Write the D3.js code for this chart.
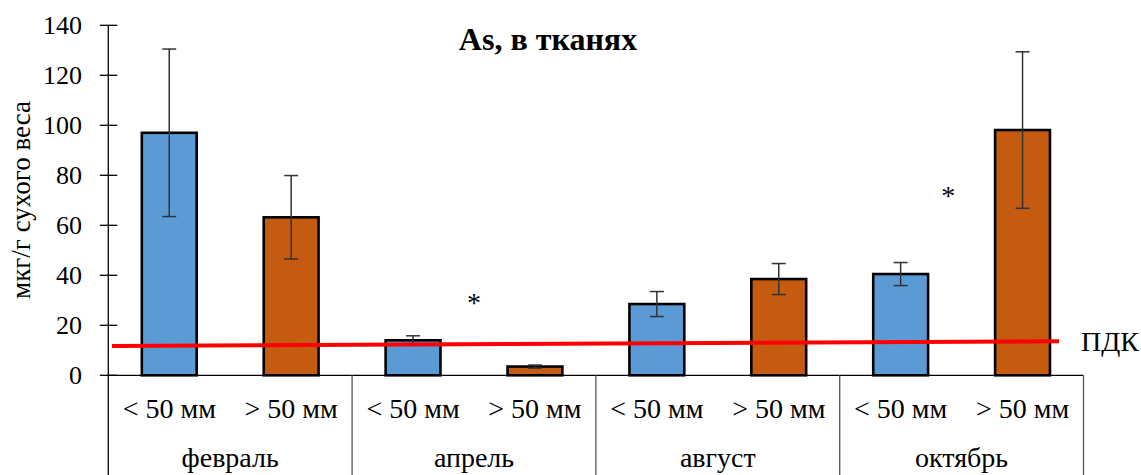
<!DOCTYPE html>
<html>
<head>
<meta charset="utf-8">
<script src="https://cdn.jsdelivr.net/npm/d3@7"></script>
<style>
  html, body { margin: 0; padding: 0; background: #fff; }
</style>
</head>
<body>
<svg id="chart" width="1141" height="475"></svg>
<script>
// Arsenic in tissues, by month and size class
const months = ["февраль", "апрель", "август", "октябрь"];
const sizes = ["< 50 мм", "> 50 мм"];
const smallValues = [97.0, 14.0, 28.5, 40.5];
const smallErrors = [33.5, 1.8, 5.0, 4.6];
const largeValues = [63.2, 3.5, 38.5, 98.1];
const largeErrors = [16.7, 0.6, 6.2, 31.3];
const yTicks = [0, 20, 40, 60, 80, 100, 120, 140];
const pdkValues = [11.7, 13.6];           // limit line, start and end
const starredMonths = ["апрель", "октябрь"];
const starHeights = [30, 73];              // height of the significance mark
const starOffsets = [0.5, 0.445];          // position inside the month group

const colors = { "< 50 мм": "#5B9BD5", "> 50 мм": "#C55A11" };
const FONT = '"Liberation Serif"';

// rows for the bars
const rows = [];
months.forEach((m, i) => {
  rows.push({ month: m, size: sizes[0], value: smallValues[i], err: smallErrors[i] });
  rows.push({ month: m, size: sizes[1], value: largeValues[i], err: largeErrors[i] });
});

const svg = d3.select("#chart");
const plotLeft = 108.3, plotRight = 1083.5, plotTop = 25.3, plotBase = 375.3, plotBottom = 475;

const x = d3.scaleBand()
  .domain(rows.map(d => d.month + "|" + d.size))
  .range([plotLeft, plotRight])
  .paddingInner(0.55)
  .paddingOuter(0.275);
const xMonth = d3.scaleBand().domain(months).range([plotLeft, plotRight]);
const y = d3.scaleLinear().domain([0, 140]).range([plotBase, plotTop]);
const cx = d => x(d.month + "|" + d.size) + x.bandwidth() / 2;

// y axis with crossing ticks
const yAxis = svg.append("g");
yAxis.append("line")
  .attr("x1", plotLeft).attr("x2", plotLeft)
  .attr("y1", y(140)).attr("y2", plotBottom)
  .attr("stroke", "#000").attr("stroke-width", 1.3);
yAxis.selectAll("line.tick").data(yTicks).join("line")
  .attr("class", "tick")
  .attr("x1", plotLeft - 8.5).attr("x2", plotLeft + 9)
  .attr("y1", d => y(d)).attr("y2", d => y(d))
  .attr("stroke", "#000").attr("stroke-width", 1.3);
yAxis.selectAll("text").data(yTicks).join("text")
  .attr("x", 82).attr("y", d => y(d)).attr("dy", "0.34em")
  .attr("text-anchor", "end").attr("font-size", 26)
  .text(d => d);

svg.append("text")
  .attr("transform", `translate(30,${200}) rotate(-90)`)
  .attr("text-anchor", "middle").attr("font-size", 27)
  .text("мкг/г сухого веса");

// category axis: baseline and group dividers
svg.append("line")
  .attr("x1", plotLeft).attr("x2", plotRight).attr("y1", plotBase).attr("y2", plotBase)
  .attr("stroke", "#000").attr("stroke-width", 1.3);
svg.selectAll("line.div").data(months.slice(1).concat(["end"])).join("line")
  .attr("class", "div")
  .attr("x1", d => d === "end" ? plotRight : xMonth(d))
  .attr("x2", d => d === "end" ? plotRight : xMonth(d))
  .attr("y1", plotBase).attr("y2", plotBottom)
  .attr("stroke", "#555").attr("stroke-width", 1.3);

svg.selectAll("text.size").data(rows).join("text")
  .attr("class", "size")
  .attr("x", cx)
  .attr("y", 418).attr("text-anchor", "middle").attr("font-size", 28)
  .text(d => d.size);
svg.selectAll("text.month").data(months).join("text")
  .attr("class", "month")
  .attr("x", d => xMonth(d) + xMonth.bandwidth() / 2)
  .attr("y", 467).attr("text-anchor", "middle").attr("font-size", 28)
  .text(d => d);

// bars
svg.selectAll("rect.bar").data(rows).join("rect")
  .attr("class", "bar")
  .attr("x", d => x(d.month + "|" + d.size))
  .attr("width", x.bandwidth())
  .attr("y", d => y(d.value))
  .attr("height", d => y(0) - y(d.value))
  .attr("fill", d => colors[d.size])
  .attr("stroke", "#000").attr("stroke-width", 2.6);

// error bars
const eb = svg.selectAll("g.err").data(rows).join("g").attr("class", "err")
  .attr("stroke", "#333").attr("stroke-width", 1.5);
eb.append("line")
  .attr("x1", cx).attr("x2", cx)
  .attr("y1", d => y(d.value + d.err)).attr("y2", d => y(d.value - d.err));
[1, -1].forEach(s => {
  eb.append("line")
    .attr("x1", d => cx(d) - 7).attr("x2", d => cx(d) + 7)
    .attr("y1", d => y(d.value + s * d.err)).attr("y2", d => y(d.value + s * d.err));
});

// limit line (ПДК)
const xPdk = d3.scaleLinear().domain([0, 1]).range([112, 1059]);
svg.append("path")
  .datum(pdkValues)
  .attr("d", d3.line().x((d, i) => xPdk(i)).y(d => y(d)))
  .attr("stroke", "#FF0000").attr("stroke-width", 4).attr("fill", "none");
svg.append("text")
  .attr("x", 1081).attr("y", y(pdkValues[1])).attr("dy", "0.34em")
  .attr("font-size", 28).text("ПДК");

// significance marks between size classes
svg.selectAll("text.star").data(starredMonths).join("text")
  .attr("class", "star")
  .attr("x", (d, i) => xMonth(d) + xMonth.bandwidth() * starOffsets[i])
  .attr("y", (d, i) => y(starHeights[i])).attr("dy", "0.42em")
  .attr("text-anchor", "middle").attr("font-size", 28)
  .text("*");

// title
svg.append("text")
  .attr("x", 548).attr("y", 50).attr("text-anchor", "middle")
  .attr("font-size", 32).attr("font-weight", "bold")
  .text("As, в тканях");

svg.selectAll("text").style("font-family", FONT);
</script>
</body>
</html>
